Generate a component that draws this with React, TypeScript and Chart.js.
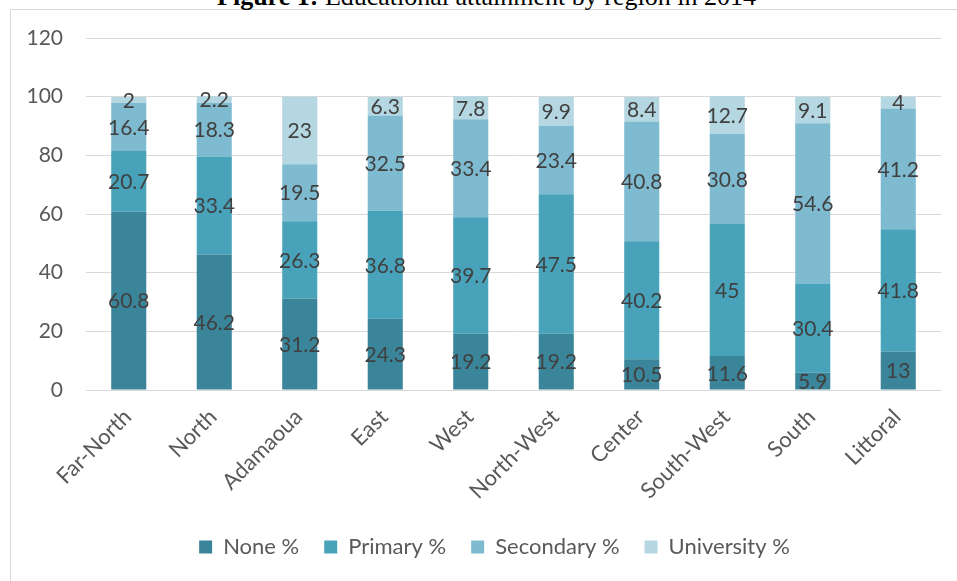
import React, { useEffect, useRef } from "react";
import { Chart, registerables } from "chart.js";

Chart.register(...registerables);

const categories = ["Far-North", "North", "Adamaoua", "East", "West", "North-West", "Center", "South-West", "South", "Littoral"];
const noneValues = [60.8, 46.2, 31.2, 24.3, 19.2, 19.2, 10.5, 11.6, 5.9, 13];
const primaryValues = [20.7, 33.4, 26.3, 36.8, 39.7, 47.5, 40.2, 45, 30.4, 41.8];
const secondaryValues = [16.4, 18.3, 19.5, 32.5, 33.4, 23.4, 40.8, 30.8, 54.6, 41.2];
const universityValues = [2, 2.2, 23, 6.3, 7.8, 9.9, 8.4, 12.7, 9.1, 4];
const seriesNames = ["None %", "Primary %", "Secondary %", "University %"];
const seriesColors = ["#3A8599", "#47A2BA", "#7FBBD0", "#B5D7E2"];
const yTicks = [0, 20, 40, 60, 80, 100, 120];

const FONT = "Lato";

const dataLabelPlugin = {
  id: "dataLabels",
  afterDatasetsDraw(chart: any) {
    const ctx = chart.ctx;
    ctx.save();
    ctx.font = `21px ${FONT}`;
    ctx.fillStyle = "#404040";
    ctx.textAlign = "center";
    ctx.textBaseline = "middle";
    chart.data.datasets.forEach((ds: any, di: number) => {
      const meta = chart.getDatasetMeta(di);
      meta.data.forEach((el: any, i: number) => {
        const v = ds.data[i];
        const y = (el.y + el.base) / 2;
        ctx.fillText(String(v), el.x, y + 1);
      });
    });
    ctx.restore();
  },
};

const legendShiftPlugin = {
  id: "legendShift",
  afterLayout(chart: any) {
    const lg = chart.legend;
    if (lg) {
      lg.left += 24;
      lg.right += 24;
    }
  },
};

export default function App() {
  const canvasRef = useRef<HTMLCanvasElement | null>(null);

  useEffect(() => {
    document.body.style.margin = "0";
    const canvas = canvasRef.current;
    if (!canvas) return;
    const values = [noneValues, primaryValues, secondaryValues, universityValues];
    const chart = new Chart(canvas, {
      type: "bar",
      data: {
        labels: categories,
        datasets: values.map((arr, i) => ({
          label: seriesNames[i],
          data: arr,
          backgroundColor: seriesColors[i],
          borderWidth: 0,
          barPercentage: 0.82,
          categoryPercentage: 0.5,
        })),
      },
      options: {
        animation: false,
        responsive: false,
        layout: { padding: { left: 0, right: 16, top: 38, bottom: 13 } },
        plugins: {
          legend: {
            position: "bottom",
            labels: {
              font: { family: FONT, size: 22 },
              color: "#595959",
              boxWidth: 13,
              boxHeight: 13,
              padding: 25,
            },
          },
          tooltip: { enabled: false },
          title: { display: false },
        },
        scales: {
          x: {
            stacked: true,
            grid: { display: false },
            border: { display: false },
            ticks: {
              font: { family: FONT, size: 22 },
              color: "#595959",
              maxRotation: 45,
              minRotation: 45,
              padding: 6,
              labelOffset: -1,
            },
            afterFit(scale: any) {
              scale.height = 121;
            },
          },
          y: {
            stacked: true,
            min: 0,
            max: 120,
            afterBuildTicks(scale: any) {
              scale.ticks = yTicks.map((v) => ({ value: v }));
            },
            grid: { color: "#D9D9D9", lineWidth: 1, drawTicks: false },
            border: { display: false },
            ticks: {
              font: { family: FONT, size: 21 },
              color: "#595959",
              padding: 23,
            },
            afterFit(scale: any) {
              scale.width = 86;
            },
          },
        },
      },
      plugins: [dataLabelPlugin, legendShiftPlugin],
    });
    return () => chart.destroy();
  }, []);

  return (
    <div style={{ position: "relative", width: 957, height: 581, overflow: "hidden", background: "#fff" }}>
      <div
        style={{
          position: "absolute",
          left: 10,
          top: 9,
          width: 1000,
          height: 700,
          border: "1px solid #D9D9D9",
          boxSizing: "border-box",
        }}
      />
      <div
        style={{
          position: "absolute",
          top: -18,
          left: 8,
          width: 957,
          textAlign: "center",
          fontFamily: "'Liberation Serif', serif",
          fontSize: 26,
          lineHeight: "30px",
          color: "#000",
          whiteSpace: "nowrap",
        }}
      >
        <b>Figure 1:</b> Educational attainment by region in 2014
      </div>
      <canvas ref={canvasRef} width={957} height={581} style={{ position: "absolute", left: 0, top: 0 }} />
    </div>
  );
}
